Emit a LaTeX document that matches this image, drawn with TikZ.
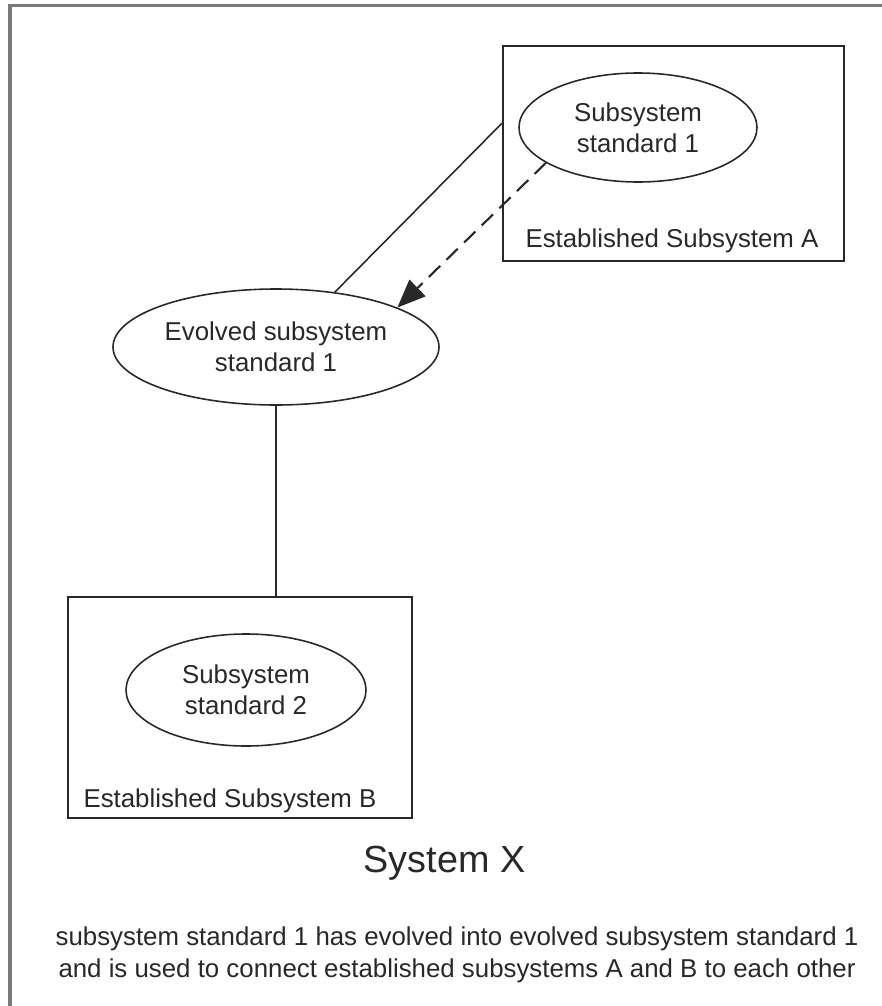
\documentclass[tikz,border=0pt]{standalone}
\usepackage{fontspec}
\setmainfont{Liberation Sans}
\definecolor{framegray}{RGB}{122, 122, 122}
\definecolor{inkgray}{RGB}{40, 40, 40}
\usetikzlibrary{arrows.meta, positioning, shapes.geometric}

\begin{document}
\begin{tikzpicture}[
  subbox/.style={draw=inkgray, line width=1.2pt, inner sep=0pt},
  substd/.style={ellipse, draw=inkgray, line width=0.9pt, inner sep=0pt, align=center, text=inkgray, font=\fontsize{14.7}{17.6}\selectfont},
  boxlabel/.style={anchor=base, text=inkgray, font=\fontsize{14.7}{17.6}\selectfont},
  link/.style={draw=inkgray, line width=0.9pt}]
\useasboundingbox (0,0) rectangle (17.64,-20.12);
\draw[framegray, line width=2.2pt] (0.20,-20.12) -- (0.20,-0.11) -- (17.64,-0.11);
% established subsystems
\node[subbox, minimum width=6.82cm, minimum height=4.30cm] (boxA) at (13.47,-3.07) {};
\node[boxlabel] (labelA) at (13.44,-4.94) {Established Subsystem A};
\node[substd, minimum width=4.76cm, minimum height=2.18cm] (std1) at (12.76,-2.55) {Subsystem\\standard 1};
\node[subbox, minimum width=6.88cm, minimum height=4.42cm] (boxB) at (4.80,-14.15) {};
\node[boxlabel] (labelB) at (4.60,-16.14) {Established Subsystem B};
\node[substd, minimum width=4.80cm, minimum height=2.24cm] (std2) at (4.92,-13.80) {Subsystem\\standard 2};
% evolved standard
\node[substd, minimum width=6.52cm, minimum height=2.32cm] (evolved) at (5.52,-6.94) {Evolved subsystem\\standard 1};
\draw[link] (evolved.43) -- (boxA.170.5);
\draw[link, line width=1.2pt, dash pattern=on 9pt off 5pt, -{Triangle[length=16pt, width=13pt]}] (std1.201) -- (evolved.18);
\draw[link] (evolved.south) -- (evolved.south |- boxB.north);
% captions
\node[anchor=base, text=inkgray, font=\fontsize{21.5}{26}\selectfont] (title) at (8.89,-17.44) {System X};
\node[align=center, text=inkgray, font=\fontsize{14.7}{18.1}\selectfont] (note) at (9.14,-19.10) {subsystem standard 1 has evolved into evolved subsystem standard 1\\and is used to connect established subsystems A and B to each other};
\end{tikzpicture}
\end{document}
